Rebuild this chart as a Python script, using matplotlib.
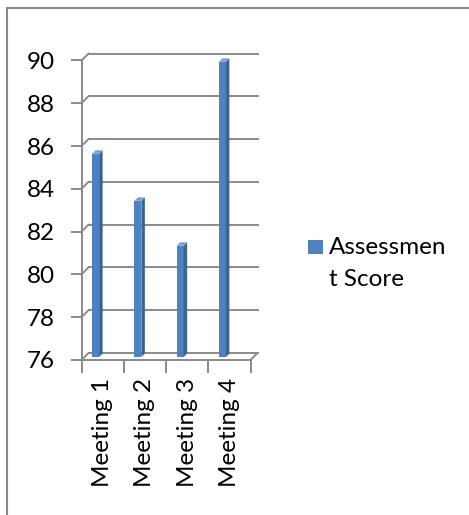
import numpy as np
import matplotlib.pyplot as plt
from matplotlib.patches import Polygon, Rectangle
from matplotlib.lines import Line2D

# =========================
# data
# =========================
categories = ["Meeting 1", "Meeting 2", "Meeting 3", "Meeting 4"]
scores = [85.5, 83.3, 81.2, 89.8]
series_name = "Assessment Score"
y_ticks = [76, 78, 80, 82, 84, 86, 88, 90]

# =========================
# layout (pixels, dpi=100)
# =========================
W, H = 469, 515
X0, X1 = 81.5, 250.5       # front plane of plot area
Y_TOP, Y_BOT = 60.5, 360.0
DEPTH = 7                  # 3d depth shift of back wall
GRAY = "#8a8a8a"
FRONT = "#4f81bd"
SIDE = "#3a6396"
TOP = "#7aa0d2"
FONT = "Lato"
FS = 17.5

plt.rcParams["font.family"] = [FONT, "DejaVu Sans"]

fig = plt.figure(figsize=(W / 100, H / 100), dpi=100)
ax = fig.add_axes([X0 / W, 1 - Y_BOT / H, (X1 - X0) / W, (Y_BOT - Y_TOP) / H])
n = len(categories)
ax.set_xlim(-0.5, n - 0.5)
ax.set_ylim(y_ticks[0], y_ticks[-1])
ax.patch.set_alpha(0)

sx = n / (X1 - X0)                          # data per px
sy = (y_ticks[-1] - y_ticks[0]) / (Y_BOT - Y_TOP)

for s in ["top", "right"]:
    ax.spines[s].set_visible(False)
for s in ["left", "bottom"]:
    ax.spines[s].set_color(GRAY)
    ax.spines[s].set_linewidth(1.4)

# back wall gridlines + left wall diagonals
xl, xr = -0.5, n - 0.5
for v in y_ticks:
    ax.add_line(Line2D([xl + DEPTH * sx, xr + DEPTH * sx],
                       [v + DEPTH * sy, v + DEPTH * sy],
                       color=GRAY, lw=1.4, clip_on=False))
    ax.add_line(Line2D([xl, xl + DEPTH * sx], [v, v + DEPTH * sy],
                       color=GRAY, lw=1.4, clip_on=False))
# right edge of floor
ax.add_line(Line2D([xr, xr + DEPTH * sx], [y_ticks[0], y_ticks[0] + DEPTH * sy],
                   color=GRAY, lw=1.4, clip_on=False))

# 3d-ish bars
FX, FW, SW, LIFT = -10.5, 7, 3.5, 3   # px
for i, v in enumerate(scores):
    L = i + FX * sx
    R = L + FW * sx
    b = y_ticks[0] + LIFT * sy
    t = v + LIFT * sy
    ax.add_patch(Rectangle((L, b), R - L, t - b, facecolor=FRONT,
                           edgecolor="none", clip_on=False, zorder=3))
    ax.add_patch(Polygon([(R, b), (R + SW * sx, b + SW * sy),
                          (R + SW * sx, t + SW * sy), (R, t)],
                         facecolor=SIDE, edgecolor="none", clip_on=False, zorder=3))
    ax.add_patch(Polygon([(L, t), (R, t), (R + SW * sx, t + SW * sy),
                          (L + SW * sx, t + SW * sy)],
                         facecolor=TOP, edgecolor="none", clip_on=False, zorder=3))

# axes ticks
ax.set_yticks(y_ticks)
ax.tick_params(axis="y", length=8, width=1.4, color=GRAY, pad=11,
               labelsize=FS, labelcolor="black")
ax.set_xticks(np.arange(n))
ax.set_xticklabels(categories, rotation=90, fontsize=FS, va="top", ha="center")
ax.set_xticks(np.arange(n + 1) - 0.5, minor=True)
ax.tick_params(axis="x", which="major", length=0, pad=13)
ax.tick_params(axis="x", which="minor", length=9, width=1.4, color=GRAY)

# legend (manual, wrapped like the original)
fig.add_artist(Rectangle((308 / W, 1 - 254 / H), 15 / W, 14 / H,
                         transform=fig.transFigure, facecolor=FRONT, edgecolor="none"))
fig.text(329 / W, 1 - 247 / H, series_name[:9], fontsize=FS, va="center", ha="left")
fig.text(329 / W, 1 - 280 / H, series_name[9:], fontsize=FS, va="center", ha="left")

# chart frame (only top/left visible)
fig.add_artist(Line2D([7 / W, 1], [1 - 8 / H, 1 - 8 / H], transform=fig.transFigure,
                      color=GRAY, lw=1.5))
fig.add_artist(Line2D([7 / W, 7 / W], [0, 1 - 8 / H], transform=fig.transFigure,
                      color=GRAY, lw=1.5))

fig.savefig("out.png", dpi=100)
